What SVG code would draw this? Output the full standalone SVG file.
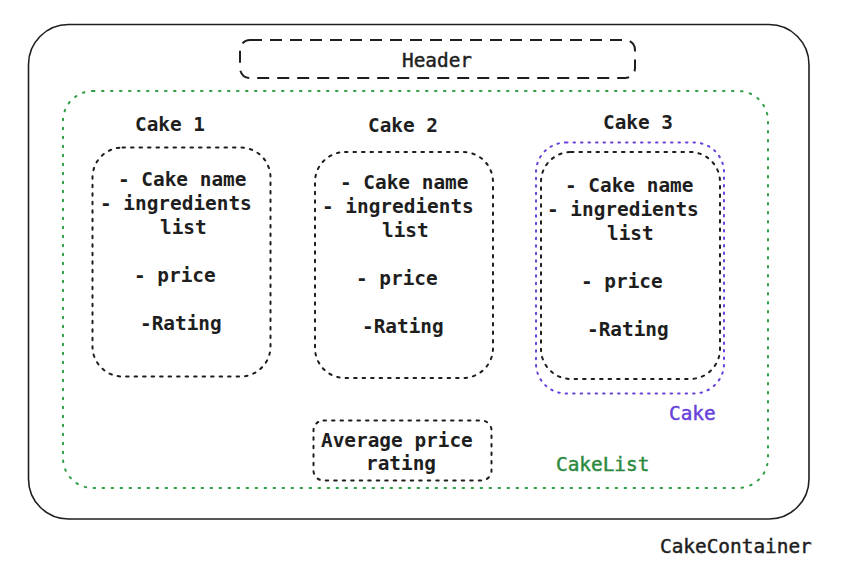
<svg xmlns="http://www.w3.org/2000/svg" width="842" height="571" viewBox="0 0 842 571">
<style>
text{font-family:"DejaVu Sans Mono","Liberation Mono",monospace;font-size:19.4px;fill:#1e1e1e}
.b{font-weight:bold}
.m{stroke:#1e1e1e;stroke-width:0.45}
.dot{fill:none;stroke:#1e1e1e;stroke-width:2;stroke-dasharray:2.5 6;stroke-linecap:round}
.gdot{fill:none;stroke:#2f9e44;stroke-width:2;stroke-dasharray:1.5 7.5;stroke-linecap:round}
.pdot{fill:none;stroke:#6741d9;stroke-width:2;stroke-dasharray:1.5 6;stroke-linecap:round}
.gt{fill:#2b8a3e;stroke:#2b8a3e;stroke-width:0.45}
.pt{fill:#6741d9;stroke:#6741d9;stroke-width:0.45}
</style>
<rect width="842" height="571" fill="#ffffff"/>
<g id="CakeContainer">
<rect x="28.5" y="24.5" width="780.5" height="494.5" rx="40" fill="none" stroke="#1e1e1e" stroke-width="1.6"/>
<text x="660" y="553" class="m">CakeContainer</text>
</g>
<g id="Header">
<rect x="240" y="40" width="395" height="38" rx="10" fill="none" stroke="#1e1e1e" stroke-width="2" stroke-dasharray="12 8"/>
<text x="402" y="67" class="m">Header</text>
</g>
<g id="CakeList">
<rect x="63" y="91" width="705" height="397" rx="30" class="gdot"/>
<text x="556" y="471" class="gt">CakeList</text>
</g>
<g id="Cake1">
<text x="135" y="131" class="b">Cake 1</text>
<rect x="92.5" y="147.5" width="178" height="229" rx="30" class="dot"/>
<text class="b"><tspan x="118" y="186">- Cake name</tspan><tspan x="100" y="210">- ingredients</tspan><tspan x="160" y="234">list</tspan><tspan x="134" y="282">- price</tspan><tspan x="140" y="330">-Rating</tspan></text>
</g>
<g id="Cake2">
<text x="368" y="132" class="b">Cake 2</text>
<rect x="315" y="152" width="178" height="226" rx="30" class="dot"/>
<text class="b"><tspan x="340" y="188.5">- Cake name</tspan><tspan x="322" y="212.5">- ingredients</tspan><tspan x="382" y="236.5">list</tspan><tspan x="356" y="284.5">- price</tspan><tspan x="362" y="332.5">-Rating</tspan></text>
</g>
<g id="Cake3">
<text x="603" y="129" class="b">Cake 3</text>
<rect x="536" y="142.5" width="188" height="251" rx="30" class="pdot"/>
<rect x="541" y="152" width="179" height="227" rx="30" class="dot"/>
<text class="b"><tspan x="565" y="191.5">- Cake name</tspan><tspan x="547" y="215.5">- ingredients</tspan><tspan x="607" y="239.5">list</tspan><tspan x="581" y="287.5">- price</tspan><tspan x="587" y="335.5">-Rating</tspan></text>
<text x="669" y="420" class="pt">Cake</text>
</g>
<g id="AverageRating">
<rect x="313.5" y="420.5" width="178" height="60" rx="10" class="dot"/>
<text class="b"><tspan x="321" y="447">Average price</tspan><tspan x="366" y="470">rating</tspan></text>
</g>
<g id="connectors"/>
</svg>
